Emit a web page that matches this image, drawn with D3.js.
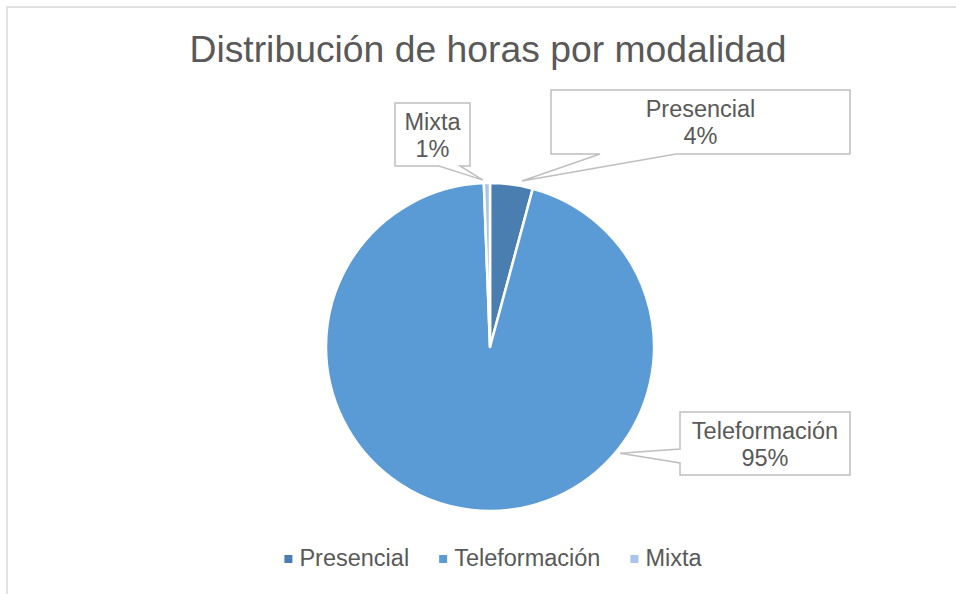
<!DOCTYPE html>
<html>
<head>
<meta charset="utf-8">
<script src="https://cdn.jsdelivr.net/npm/d3@7"></script>
<style>
  html, body { margin: 0; padding: 0; background: #fff; }
  svg { display: block; }
  text { font-family: "Liberation Sans", Arial, sans-serif; fill: #595959; }
</style>
</head>
<body>
<svg id="chart" width="956" height="594"></svg>
<script>
// ---- data ----
const title = "Distribución de horas por modalidad";
const categories = ["Presencial", "Teleformación", "Mixta"];
const values = [4.2, 95.2, 0.6];
const colors = ["#4a7eb1", "#5b9bd5", "#a9c5e8"];

// ---- layout ----
const W = 956, H = 594;
const cx = 490, cy = 347, R = 164;
// callout layout: box, pointer base on box edge, tip (angle deg from top clockwise, radius)
const callouts = [
  { box: [551, 90, 299, 64], edge: "bottom", base: [600, 676], tip: [10.9, 169] },
  { box: [680, 412, 170, 63], edge: "left", base: [449, 463], tip: [129.2, 168] },
  { box: [395, 103, 75, 63], edge: "bottom", base: [439, 460], tip: [-2.4, 167] }
];

const svg = d3.select("#chart");

// frame
svg.append("rect")
  .attr("x", 7).attr("y", 7).attr("width", W + 20).attr("height", H + 20)
  .attr("fill", "#fff").attr("stroke", "#d9d9d9").attr("stroke-width", 1.5);

// title
svg.append("text")
  .attr("x", 488).attr("y", 62)
  .attr("text-anchor", "middle")
  .style("font-size", "37.3px")
  .text(title);

// pie
const total = d3.sum(values);
const pie = d3.pie().sort(null).value(d => d.value);
const arcs = pie(categories.map((c, i) => ({ name: c, value: values[i], color: colors[i] })));
const arc = d3.arc().innerRadius(0).outerRadius(R);

const g = svg.append("g").attr("transform", `translate(${cx},${cy})`);
g.selectAll("path.slice").data(arcs).enter().append("path")
  .attr("class", "slice")
  .attr("d", arc)
  .attr("fill", d => d.data.color)
  .attr("stroke", "#fff")
  .attr("stroke-width", 2.5)
  .attr("stroke-linejoin", "round");

// callouts
const pct = d3.format(".0%");
arcs.forEach((d, i) => {
  const c = callouts[i];
  const [bx, by, bw, bh] = c.box;
  const a = c.tip[0] * Math.PI / 180;
  const tx = cx + c.tip[1] * Math.sin(a);
  const ty = cy - c.tip[1] * Math.cos(a);
  let p;
  if (c.edge === "bottom") {
    p = [[bx, by], [bx + bw, by], [bx + bw, by + bh], [c.base[1], by + bh], [tx, ty], [c.base[0], by + bh], [bx, by + bh]];
  } else {
    p = [[bx, by], [bx + bw, by], [bx + bw, by + bh], [bx, by + bh], [bx, c.base[1]], [tx, ty], [bx, c.base[0]]];
  }
  svg.append("path")
    .attr("d", d3.line()(p) + "Z")
    .attr("fill", "#fff")
    .attr("stroke", "#bfbfbf")
    .attr("stroke-width", 1.5)
    .attr("stroke-linejoin", "miter");
  const t = svg.append("text")
    .attr("text-anchor", "middle")
    .style("font-size", "23.5px");
  t.append("tspan").attr("x", bx + bw / 2).attr("y", by + 27).text(d.data.name);
  t.append("tspan").attr("x", bx + bw / 2).attr("y", by + 54).text(pct(d.data.value / total));
});

// legend
const legend = svg.append("g");
const items = legend.selectAll("g.item").data(categories).enter().append("g").attr("class", "item");
items.append("rect")
  .attr("width", 8).attr("height", 8)
  .attr("y", 555)
  .attr("fill", (d, i) => colors[i]);
items.append("text")
  .attr("y", 566)
  .attr("x", 15)
  .style("font-size", "23.5px")
  .text(d => d);
let xPos = 0;
const widths = [];
items.each(function () {
  const w = d3.select(this).select("text").node().getComputedTextLength();
  widths.push(15 + w);
});
const gap = 30;
const totalW = d3.sum(widths) + gap * (widths.length - 1);
xPos = 493 - totalW / 2;
items.each(function (d, i) {
  d3.select(this).attr("transform", `translate(${xPos},0)`);
  xPos += widths[i] + gap;
});
</script>
</body>
</html>
